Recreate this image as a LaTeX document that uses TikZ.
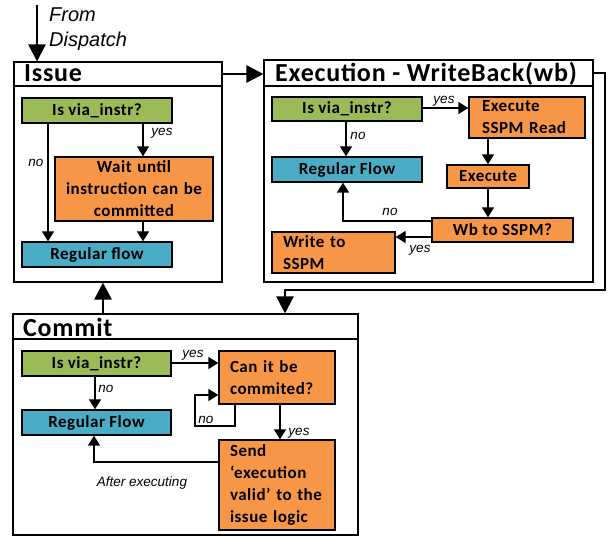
\documentclass[tikz,border=0pt]{standalone}
\usepackage{fontspec}
\setmainfont{Carlito}[LetterSpace=3]
\newfontfamily\labelfont{Liberation Sans}
\usetikzlibrary{arrows.meta}
\definecolor{boxgreen}{HTML}{9BBB59}
\definecolor{boxorange}{HTML}{F79646}
\definecolor{boxblue}{HTML}{4BACC6}
\tikzset{
  box/.style={draw, line width=1.3pt, inner sep=0pt, align=center,
    font=\bfseries\fontsize{17}{22}\selectfont},
  lbox/.style={box, align=left, inner xsep=11pt},
  frame/.style={draw, line width=1.1pt, inner sep=0pt},
  title/.style={anchor=base west, inner sep=0pt, font=\bfseries\fontsize{26}{28}\selectfont},
  lbl/.style={inner sep=0pt, font=\labelfont\itshape\fontsize{13.5}{14}\selectfont},
  arr/.style={line width=1.3pt, -{Triangle[length=10pt,width=12pt]}},
  bigarr/.style={line width=2.6pt, -{Triangle[length=17pt,width=17pt]}},
}
\begin{document}
\begin{tikzpicture}[x=1pt, y=-1pt]
\useasboundingbox (0,0) rectangle (611,537);

% ---------- Issue stage ----------
\node[frame, minimum width=208pt, minimum height=196pt] (issuebody) at (118,184) {};
\node[frame, minimum width=208pt, minimum height=24pt] (issuehead) at (118,74) {};
\node[title] at (24,82) {Issue};

\node[box, fill=boxgreen, minimum width=150pt, minimum height=25pt] (isgreen) at (97,110.5) {Is via\_instr?};
\node[box, fill=boxorange, text width=158pt, minimum height=64pt] (iswait) at (134,189) {Wait until\\instruction can be\\committed};
\node[box, fill=boxblue, minimum width=150pt, minimum height=25pt] (isreg) at (97,254.5) {Regular flow};

\draw[arr] (48,0 |- isgreen.south) -- (48,0 |- isreg.north);
\draw[arr] (143,0 |- isgreen.south) -- (143,0 |- iswait.north);
\draw[arr] (143,0 |- iswait.south) -- (143,0 |- isreg.north);
\node[lbl] at (36,163) {no};
\node[lbl] at (162,133) {yes};

% ---------- Execution - WriteBack stage ----------
\node[frame, minimum width=329pt, minimum height=196pt] (exbody) at (428.5,184) {};
\node[frame, minimum width=329pt, minimum height=26pt] (exhead) at (428.5,73) {};
\node[title] at (275,82) {Execution - WriteBack(wb)};

\node[box, fill=boxgreen, minimum width=150pt, minimum height=24pt] (exgreen) at (347,109) {Is via\_instr?};
\node[lbox, fill=boxorange, inner xsep=13pt, text width=90pt, minimum height=41pt] (exread) at (527,117.5) {Execute\\SSPM Read};
\node[box, fill=boxblue, minimum width=150pt, minimum height=25pt] (exreg) at (347,169.5) {Regular Flow};
\node[box, fill=boxorange, minimum width=82pt, minimum height=23pt] (exexec) at (488,176.5) {Execute};
\node[box, fill=boxorange, minimum width=141pt, minimum height=24pt] (exwb) at (502.5,230) {Wb to SSPM?};
\node[lbox, fill=boxorange, text width=101pt, minimum height=41pt] (exwrite) at (333.5,252.5) {Write to\\SSPM};

\draw[arr] (exgreen.east |- 0,108) -- (exread.west |- 0,108);
\draw[arr] (346,0 |- exgreen.south) -- (346,0 |- exreg.north);
\draw[arr] (488,0 |- exread.south) -- (488,0 |- exexec.north);
\draw[arr] (488,0 |- exexec.south) -- (488,0 |- exwb.north);
\draw[arr] (exwb.west |- 0,221) -| (343,0 |- exreg.south);
\draw[arr] (exwb.west |- 0,237) -- (exwrite.east |- 0,237);
\node[lbl] at (444,101) {yes};
\node[lbl] at (358,136) {no};
\node[lbl] at (390,212) {no};
\node[lbl] at (420,250) {yes};

% ---------- Commit stage ----------
\node[frame, minimum width=345pt, minimum height=196pt] (cmbody) at (185.5,437) {};
\node[frame, minimum width=345pt, minimum height=25pt] (cmhead) at (185.5,326.5) {};
\node[title] at (23,337) {Commit};

\node[box, fill=boxgreen, minimum width=149pt, minimum height=25pt] (cmgreen) at (96.5,363.5) {Is via\_instr?};
\node[lbox, fill=boxorange, text width=94pt, minimum height=53pt] (cmcan) at (277,377.5) {Can it be\\commited?};
\node[box, fill=boxblue, minimum width=149pt, minimum height=25pt] (cmreg) at (96.5,422.5) {Regular Flow};
\node[lbox, fill=boxorange, text width=94pt, minimum height=90pt] (cmsend) at (277,485) {Send\\‘execution\\valid’ to the\\issue logic};

\draw[arr] (cmgreen.east |- 0,363) -- (cmcan.west |- 0,363);
\draw[arr] (95,0 |- cmgreen.south) -- (95,0 |- cmreg.north);
\draw[arr] (280,0 |- cmcan.south) -- (280,0 |- cmsend.north);
\draw[arr] (235,0 |- cmcan.south) |- (195,426) |- (cmcan.west |- 0,395);
\draw[arr] (cmsend.west |- 0,462) -| (94,0 |- cmreg.south);
\node[lbl] at (193,355) {yes};
\node[lbl] at (106,389) {no};
\node[lbl] at (206,420) {no};
\node[lbl] at (299,433) {yes};
\node[lbl] at (142,483) {After executing};

% ---------- Stage-to-stage flow ----------
\coordinate (disp) at (37,5);
\draw[bigarr] (disp) -- (disp |- issuehead.north);
\node[anchor=north west, align=left, inner sep=0pt,
  font=\labelfont\itshape\fontsize{20}{25}\selectfont] (dispText) at (49,8) {From\\Dispatch};
\draw[bigarr] (issuehead.east) -- (exhead.west |- issuehead.east);
\coordinate (turnA) at (605,73);
\coordinate (turnB) at (285,290);
\draw[bigarr] (exhead.east) -- (turnA) |- (turnB) -- (turnB |- cmhead.north);
\draw[bigarr] (103,0 |- cmhead.north) -- (103,0 |- issuebody.south);
\end{tikzpicture}
\end{document}
